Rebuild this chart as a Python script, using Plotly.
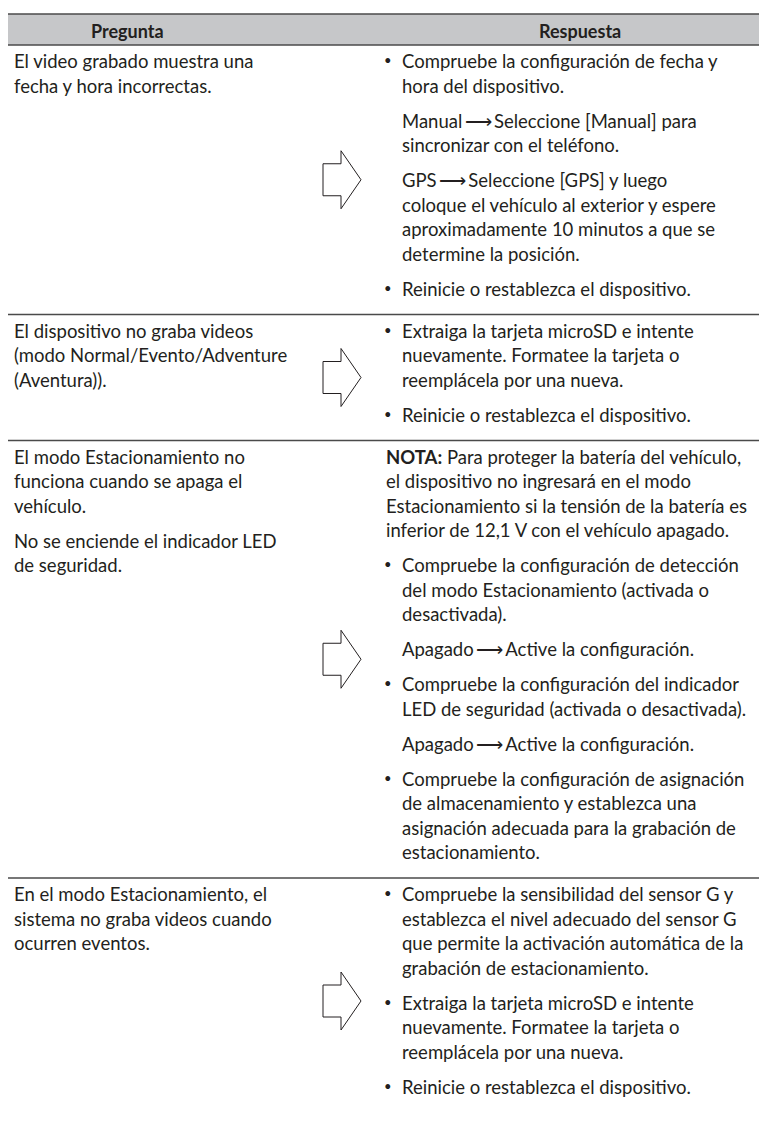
import plotly.graph_objects as go

# ---------------- data ----------------
header = ["Pregunta", "Respuesta"]

questions = [
    [["El video grabado muestra una", "fecha y hora incorrectas."]],
    [["El dispositivo no graba videos", "(modo Normal/Evento/Adventure", "(Aventura))."]],
    [["El modo Estacionamiento no", "funciona cuando se apaga el", "vehículo."],
     ["No se enciende el indicador LED", "de seguridad."]],
    [["En el modo Estacionamiento, el", "sistema no graba videos cuando", "ocurren eventos."]],
]

answers = [
    [("bullet", ["Compruebe la configuración de fecha y", "hora del dispositivo."]),
     ("sub", ["Manual\u2009⟶\u2009Seleccione [Manual] para", "sincronizar con el teléfono."]),
     ("sub", ["GPS\u2009⟶\u2009Seleccione [GPS] y luego", "coloque el vehículo al exterior y espere",
              "aproximadamente 10 minutos a que se", "determine la posición."]),
     ("bullet", ["Reinicie o restablezca el dispositivo."])],
    [("bullet", ["Extraiga la tarjeta microSD e intente", "nuevamente. Formatee la tarjeta o",
                 "reemplácela por una nueva."]),
     ("bullet", ["Reinicie o restablezca el dispositivo."])],
    [("note", ["<b>NOTA:</b> Para proteger la batería del vehículo,", "el dispositivo no ingresará en el modo",
               "Estacionamiento si la tensión de la batería es", "inferior de 12,1 V con el vehículo apagado."]),
     ("bullet", ["Compruebe la configuración de detección", "del modo Estacionamiento (activada o",
                 "desactivada)."]),
     ("sub", ["Apagado\u2009⟶\u2009Active la configuración."]),
     ("bullet", ["Compruebe la configuración del indicador", "LED de seguridad (activada o desactivada)."]),
     ("sub", ["Apagado\u2009⟶\u2009Active la configuración."]),
     ("bullet", ["Compruebe la configuración de asignación", "de almacenamiento y establezca una",
                 "asignación adecuada para la grabación de", "estacionamiento."])],
    [("bullet", ["Compruebe la sensibilidad del sensor G y", "establezca el nivel adecuado del sensor G",
                 "que permite la activación automática de la", "grabación de estacionamiento."]),
     ("bullet", ["Extraiga la tarjeta microSD e intente", "nuevamente. Formatee la tarjeta o",
                 "reemplácela por una nueva."]),
     ("bullet", ["Reinicie o restablezca el dispositivo."])],
]

# ---------------- layout constants ----------------
W, H = 767, 1124
OFF = 8          # default page body margin; axis ranges compensate so data units = page pixels
FONT = "Lato"
FS = 18.5
TXT = "#231f20"
LINE = 24.5      # pitch inside a paragraph
PGAP = 35        # pitch between paragraphs
TOP_PAD = 16
BOT_PAD = 26
HEAD_TOP, HEAD_BOT = 14, 45
X_LEFT, X_Q = 5, 12
X_BUL, X_TXT, X_NOTE = 388, 400, 384

annotations = []
shapes = []

def text(x, y, s, size=FS, anchor="left", color=TXT):
    annotations.append(dict(x=x, y=y, xref="x", yref="y", text=s, showarrow=False,
                            xanchor=anchor, yanchor="middle",
                            font=dict(family=FONT, size=size, color=color)))

# header
shapes.append(dict(type="rect", x0=X_LEFT, x1=W + 2, y0=HEAD_TOP, y1=HEAD_BOT,
                   xref="x", yref="y", fillcolor="#c6c7c9", line=dict(width=0), layer="below"))
for yy in (HEAD_TOP, HEAD_BOT):
    shapes.append(dict(type="line", x0=X_LEFT, x1=W + 2, y0=yy, y1=yy, xref="x", yref="y",
                       line=dict(color="#4a4a4a", width=1.5)))
text(127, (HEAD_TOP + HEAD_BOT) / 2 + 1, "<b>" + header[0] + "</b>", size=18, anchor="center")
text(580, (HEAD_TOP + HEAD_BOT) / 2 + 1, "<b>" + header[1] + "</b>", size=18, anchor="center")

def layout_paragraphs(paras, y0):
    out = []
    y = y0
    first = True
    for pi, lines in enumerate(paras):
        for li, _ in enumerate(lines):
            if not first:
                y += LINE if li > 0 else PGAP
            first = False
            out.append((pi, li, y))
    return out, y

def arrow(cy):
    x0, xm, x1 = 323, 341, 361
    hs, hh = 16, 29
    path = (f"M {x0},{cy-hs} L {xm},{cy-hs} L {xm},{cy-hh} L {x1},{cy} "
            f"L {xm},{cy+hh} L {xm},{cy+hs} L {x0},{cy+hs} Z")
    shapes.append(dict(type="path", path=path, xref="x", yref="y",
                       line=dict(color="#231f20", width=1), fillcolor="rgba(0,0,0,0)"))

row_top = HEAD_BOT
for r in range(len(questions)):
    y0 = row_top + TOP_PAD
    qpos, qlast = layout_paragraphs(questions[r], y0)
    for pi, li, y in qpos:
        text(X_Q, y, questions[r][pi][li])
    apos, alast = layout_paragraphs([a[1] for a in answers[r]], y0)
    for pi, li, y in apos:
        kind, lines = answers[r][pi]
        if kind == "note":
            text(X_NOTE, y, lines[li])
        else:
            if kind == "bullet" and li == 0:
                text(X_BUL, y - 1, "•", size=13, anchor="center")
            text(X_TXT, y, lines[li])
    last = max(qlast, alast)
    if r < len(questions) - 1:
        row_bot = last + BOT_PAD
        shapes.append(dict(type="line", x0=X_LEFT, x1=W + 2, y0=row_bot, y1=row_bot,
                           xref="x", yref="y", line=dict(color="#4a4a4a", width=1.5)))
    else:
        row_bot = H
    arrow((row_top + row_bot) / 2)
    row_top = row_bot

fig = go.Figure()
fig.update_layout(
    width=W - OFF, height=H - OFF, margin=dict(l=0, r=0, t=0, b=0),
    paper_bgcolor="white", plot_bgcolor="white",
    xaxis=dict(range=[OFF, W], visible=False, fixedrange=True),
    yaxis=dict(range=[H, OFF], visible=False, fixedrange=True),
    annotations=annotations, shapes=shapes, showlegend=False,
)
fig.write_html("out.html")
